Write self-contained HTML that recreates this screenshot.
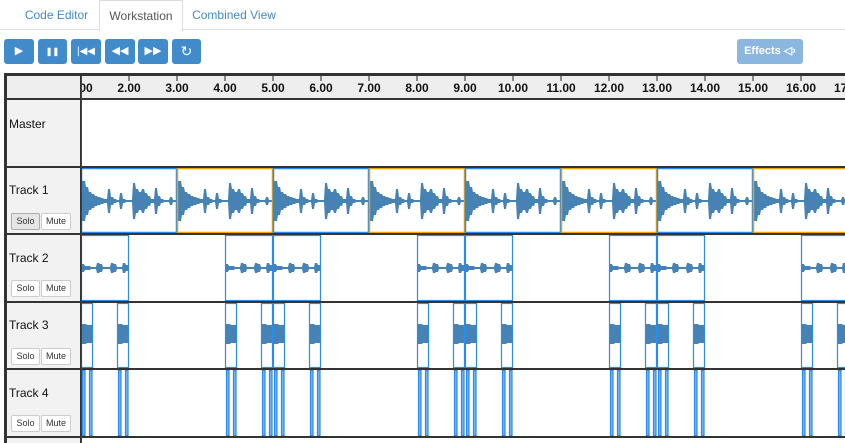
<!DOCTYPE html>
<html><head><meta charset="utf-8"><style>
body{margin:0;width:845px;height:443px;overflow:hidden;background:#fff;font-family:"Liberation Sans",sans-serif;position:relative}
.tab{position:absolute;top:0;height:29px;line-height:30px;font-size:12px;color:#428bca;text-align:center}
.btn{position:absolute;top:39px;height:25px;background:#428bca;border-radius:3px;color:#fff;font-size:11px;text-align:center;line-height:25px}
.lbl{position:absolute;left:9px;font-size:12px;color:#111}
.sb{position:absolute;height:15px;font-size:9px;line-height:15px;border:1px solid #ccc;border-radius:2px;background:#fff;text-align:center;color:#333}
</style></head><body>
<div style="position:absolute;left:0;top:29px;width:845px;height:1px;background:#ddd"></div>
<div class="tab" style="left:14px;width:85px">Code Editor</div>
<div class="tab" style="left:99px;width:82px;color:#555;background:#fff;border:1px solid #ddd;border-bottom:none;top:0;height:30px">Workstation</div>
<div class="tab" style="left:182px;width:104px">Combined View</div>
<div class="btn" style="left:4px;width:30px">▶</div>
<div class="btn" style="left:38px;width:29px;font-weight:bold;font-size:8px">❚❚</div>
<div class="btn" style="left:71px;width:30px;font-size:10px">|◀◀</div>
<div class="btn" style="left:105px;width:30px">◀◀</div>
<div class="btn" style="left:138px;width:30px">▶▶</div>
<div class="btn" style="left:172px;width:29px;font-size:14px">↻</div>
<div class="btn" style="left:737px;width:66px;background:#8ab6e0;font-weight:bold;font-size:11px">Effects ◁›</div>

<svg id="tl" width="845" height="443" style="position:absolute;left:0;top:0"></svg>

<div class="lbl" style="top:117px">Master</div>
<div class="lbl" style="top:183px">Track 1</div>
<div class="lbl" style="top:251px">Track 2</div>
<div class="lbl" style="top:318px">Track 3</div>
<div class="lbl" style="top:386px">Track 4</div>
<div class="sb" style="left:11px;top:213px;width:27px;background:#e6e6e6;border-color:#adadad">Solo</div>
<div class="sb" style="left:41px;top:213px;width:28px">Mute</div>
<div class="sb" style="left:11px;top:280px;width:27px">Solo</div>
<div class="sb" style="left:41px;top:280px;width:28px">Mute</div>
<div class="sb" style="left:11px;top:348px;width:27px">Solo</div>
<div class="sb" style="left:41px;top:348px;width:28px">Mute</div>
<div class="sb" style="left:11px;top:415px;width:27px">Solo</div>
<div class="sb" style="left:41px;top:415px;width:28px">Mute</div>

<script>
const ticks=[1,2,3,4,5,6,7,8,9,10,11,12,13,14,15,16,17];
const track1Clips=[1,3,5,7,9,11,13,15];
const track1Colors=["#2a8af0","#f0a000","#2a8af0","#f0a000","#2a8af0","#f0a000","#2a8af0","#f0a000"];
const track2Starts=[1,4,5,8,9,12,13,16];
const track3Starts=[1,1.75,4,4.75,5,5.75,8,8.75,9,9.75,12,12.75,13,13.75,16,16.75];
const env1=[20,14,9,7,5,4,3,2,12,4,2,1,8,2,1,1,18,12,9,12,8,5,2,13,5,2,1,1,4,1];
const env2=[4,2,2,1,1,5,4,1,1,1,5,4,1,1,5,3];
const X0=81,PX=48;
const xs=t=>X0+(t-1)*PX;
const svg=document.getElementById('tl');
const NS='http://www.w3.org/2000/svg';
function mk(tag,attrs){const e=document.createElementNS(NS,tag);for(const k in attrs)e.setAttribute(k,attrs[k]);svg.appendChild(e);return e;}
let r=mk('rect',{x:4,y:74,width:841,height:369,fill:'#fff'});

r=mk('rect',{x:4,y:74,width:841,height:25,fill:'#eee'});

r=mk('rect',{x:4,y:99,width:77,height:344,fill:'#f2f2f2'});

function wave(x0,w,cy,env,amp,name){
  let top='',bot='';const n=env.length;
  for(let i=0;i<=w;i++){const v=Math.max(0.7,env[Math.min(n-1,Math.floor(i/w*n))]*amp);top+=`${x0+i},${cy-v} `;bot=`${x0+i},${cy+v} `+bot;}
  const p=mk('polygon',{points:top+bot,fill:'#4682b4'});
  
}
track1Clips.forEach((t,i)=>{
  const x=xs(t),w=2*PX;
  wave(x+1,w-2,201,env1,1,'track-1-waveform');
  const c=mk('rect',{x:x+0.5,y:168.5,width:w-1,height:64,fill:'none',stroke:track1Colors[i],'stroke-width':1.5});
  
});
track2Starts.forEach(t=>{
  const x=xs(t),w=PX;
  wave(x+1,w-2,268,env2,1,'track-2-waveform');
  const c=mk('rect',{x:x+0.5,y:235.5,width:w-1,height:65,fill:'none',stroke:'#2a8af0','stroke-width':1.2});
  
});
track3Starts.forEach(t=>{
  const x=xs(t),w=PX/4;
  wave(x+1,w-2,334,[10,10,9,9],1,'track-3-waveform');
  let c=mk('rect',{x:x+0.5,y:303.5,width:w-1,height:64,fill:'none',stroke:'#2a8af0','stroke-width':1.2});
  
  [x+1,x+w-4].forEach(xx=>{
    const d=mk('rect',{x:xx+0.5,y:370.5,width:2.5,height:65,fill:'#7db7ee',stroke:'#2a8af0','stroke-width':1.2});
    
  });
});
[99,167,234,302,369,437].forEach(y=>{
  const l=mk('rect',{x:4,y:y-1,width:841,height:2,fill:'#333'});
  
});
r=mk('rect',{x:4,y:73,width:841,height:3,fill:'#333'});

r=mk('rect',{x:4,y:73,width:3,height:370,fill:'#333'});

r=mk('rect',{x:80,y:76,width:1,height:367,fill:'#333'});

const g=mk('svg',{x:81,y:74,width:764,height:25});
ticks.forEach(t=>{
  const x=xs(t)-81;
  const l=document.createElementNS(NS,'line');
  l.setAttribute('x1',x);l.setAttribute('x2',x);l.setAttribute('y1',2);l.setAttribute('y2',7);l.setAttribute('stroke','#222');
  
  
  g.appendChild(l);
  const tx=document.createElementNS(NS,'text');
  tx.setAttribute('x',x);tx.setAttribute('y',18);tx.setAttribute('text-anchor','middle');
  tx.setAttribute('font-size','12');tx.setAttribute('font-weight','bold');tx.setAttribute('font-family','Liberation Sans, sans-serif');tx.setAttribute('fill','#111');
  tx.textContent=t.toFixed(2);
  
  
  g.appendChild(tx);
});
r=mk('rect',{x:81,y:76,width:1,height:367,fill:'#d00'});

</script>
</body></html>
